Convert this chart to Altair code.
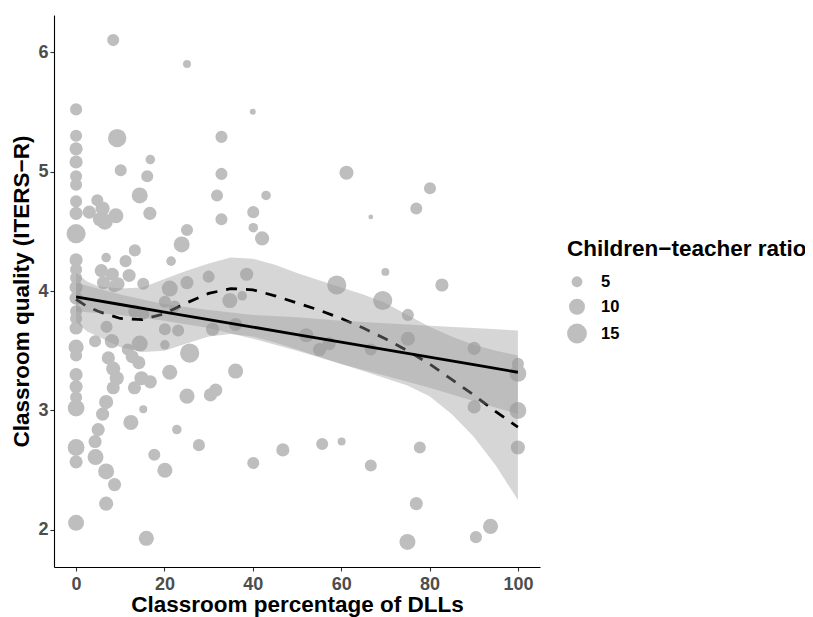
import altair as alt
import pandas as pd

# ---- scatter data: classroom % DLLs, ITERS-R quality, children-teacher ratio ----
dll = [0,0,0,0,0,0,0,0,0,0,0,0,0,0,0,0,0,0,0,0,0,0,0,0,0,0,
       3.0,4.8,6.0,5.4,6.5,9.0,8.4,9.3,10.1,6.8,5.7,8.2,9.5,6.2,8.6,12.0,6.9,4.3,8.1,7.3,8.4,9.2,8.4,6.8,6.0,5.0,4.3,4.4,6.8,8.7,6.8,
       11.2,13.3,15.2,16.8,16.1,14.4,16.7,13.3,15.2,14.4,11.7,12.7,14.2,14.8,16.8,13.2,15.2,12.4,17.7,15.9,
       21.5,23.9,25.1,21.2,25.1,20.1,22.3,20.1,23.1,20.1,25.7,21.2,25.1,22.8,27.8,20.1,25.1,
       30.0,32.9,32.9,31.9,32.9,40.0,43.0,40.1,40.1,42.1,38.6,34.8,37.6,30.9,36.1,36.1,30.4,31.6,40.1,
       46.8,52.1,55.1,57.3,55.7,60.1,59.0,61.2,66.7,66.7,66.7,69.4,70.0,
       75.1,75.1,77.0,80.1,82.8,77.8,77.0,75.0,90.1,90.1,90.5,93.8,100,100,100,100]
quality = [5.52,5.30,5.19,5.08,4.96,4.89,4.75,4.65,4.48,4.26,4.18,4.11,4.03,3.94,3.83,3.77,3.69,3.53,3.46,3.30,3.20,3.11,3.02,2.69,2.57,2.06,
           4.66,4.76,4.69,4.60,4.58,4.63,6.10,5.28,5.01,4.28,4.17,4.14,4.06,4.07,4.04,4.13,3.70,3.58,3.58,3.44,3.35,3.27,3.19,3.07,2.97,2.84,2.74,2.61,2.49,2.38,2.22,
           4.25,4.34,4.06,5.10,4.96,4.80,4.65,3.83,3.81,3.56,3.51,3.45,3.40,3.27,3.24,3.19,3.01,2.90,2.63,1.93,
           4.25,4.39,4.51,4.02,4.07,3.91,3.87,3.68,3.67,3.55,3.48,3.32,3.12,2.84,2.71,2.50,5.90,
           4.12,5.29,4.98,4.80,4.60,5.50,4.80,4.66,4.53,4.44,4.14,3.92,3.96,3.68,3.72,3.33,3.13,3.17,2.56,
           2.67,3.63,3.51,3.56,2.72,2.74,4.05,4.99,4.62,3.51,2.54,3.92,4.16,
           3.80,3.60,4.69,4.86,4.05,2.69,2.22,1.90,3.52,3.03,1.94,2.03,3.39,3.31,3.00,2.69]
ratio = [6,6,7,7,6,6,6,7,14,7,6,6,7,7,6,6,7,9,6,7,7,6,11,11,7,10,
         7,6,8,8,10,9,6,13,6,4,7,7,7,7,6,7,6,6,8,7,8,8,7,8,7,7,7,10,10,7,8,
         6,6,6,4,6,10,7,7,6,10,6,7,7,8,7,7,3,9,6,9,
         4,10,6,10,7,6,6,6,6,4,14,9,9,4,6,9,3,
         6,6,6,6,6,2,4,6,4,8,7,9,4,7,7,9,7,7,6,
         7,8,7,7,6,3,14,8,1.5,6,6,14,3,
         6,8,6,6,7,6,7,10,7,7,6,9,6,11,11,8]

# ---- fitted curves ----
lm_x = [0,10,20,30,40,50,60,70,80,90,100]
lm_fit = [3.95,3.887,3.824,3.761,3.698,3.635,3.572,3.509,3.446,3.383,3.32]
lm_lo = [3.83,3.80,3.75,3.69,3.60,3.50,3.39,3.29,3.19,3.08,2.97]
lm_hi = [4.07,3.97,3.89,3.84,3.80,3.78,3.75,3.73,3.71,3.69,3.67]

lo_x = [0,2.5,5,10,15,20,25,30,35,40,45,50,55,60,65,70,75,80,85,90,95,100]
lo_fit = [3.93,3.87,3.83,3.77,3.76,3.81,3.90,3.98,4.02,4.01,3.96,3.90,3.84,3.77,3.69,3.60,3.50,3.39,3.26,3.13,2.99,2.86]
lo_lo = [3.74,3.66,3.62,3.53,3.49,3.50,3.56,3.62,3.64,3.62,3.57,3.51,3.45,3.39,3.33,3.27,3.21,3.12,2.97,2.78,2.54,2.25]
lo_hi = [4.15,4.08,4.04,4.02,4.03,4.10,4.17,4.23,4.28,4.27,4.22,4.15,4.09,4.03,3.97,3.90,3.80,3.70,3.62,3.55,3.50,3.46]

pts = pd.DataFrame({"dll": dll, "quality": quality, "ratio": ratio})
lm = pd.DataFrame({"x": lm_x, "fit": lm_fit, "lo": lm_lo, "hi": lm_hi})
lo = pd.DataFrame({"x": lo_x, "fit": lo_fit, "lo": lo_lo, "hi": lo_hi})

FONT = "Liberation Sans"
xscale = alt.Scale(domain=[-5, 105], nice=False, zero=False)
yscale = alt.Scale(domain=[1.69, 6.31], nice=False, zero=False)

xaxis = alt.Axis(values=[0, 20, 40, 60, 80, 100], format="d", title="Classroom percentage of DLLs",
                 titleX=243, titleY=44, titleBaseline="alphabetic", titleAnchor="start", titleAlign="center")
yaxis = alt.Axis(values=[2, 3, 4, 5, 6], format="d", title="Classroom quality (ITERS\u2212R)",
                 titleX=-25.5, titleY=276, titleBaseline="alphabetic", titleAlign="center", titleAngle=270)

points = alt.Chart(pts).mark_circle(color="#bebebe", opacity=1).encode(
    x=alt.X("dll:Q", scale=xscale, axis=xaxis),
    y=alt.Y("quality:Q", scale=yscale, axis=yaxis),
    size=alt.Size("ratio:Q",
                  scale=alt.Scale(domain=[2, 16], range=[36, 420], zero=False),
                  legend=alt.Legend(title="Children\u2212teacher ratio", values=[5, 10, 15],
                                    orient="none", legendX=513, legendY=223)),
)

lo_band = alt.Chart(lo).mark_area(color="#999999", opacity=0.4).encode(
    x=alt.X("x:Q", scale=xscale), y=alt.Y("lo:Q", scale=yscale), y2="hi:Q")
lo_line = alt.Chart(lo).mark_line(color="black", strokeWidth=2.8, strokeDash=[11, 9]).encode(
    x=alt.X("x:Q", scale=xscale), y=alt.Y("fit:Q", scale=yscale))
lm_band = alt.Chart(lm).mark_area(color="#999999", opacity=0.4).encode(
    x=alt.X("x:Q", scale=xscale), y=alt.Y("lo:Q", scale=yscale), y2="hi:Q")
lm_line = alt.Chart(lm).mark_line(color="black", strokeWidth=2.8).encode(
    x=alt.X("x:Q", scale=xscale), y=alt.Y("fit:Q", scale=yscale))

chart = alt.layer(points, lo_band, lo_line, lm_band, lm_line).properties(
    width=486, height=552,
    autosize=alt.AutoSizeParams(type="none"),
    padding={"left": 46, "top": 7, "right": 265, "bottom": 50},
).configure_view(stroke=None).configure_axis(
    grid=False, domainColor="black", domainWidth=1.1,
    tickColor="#333333", tickSize=4, tickWidth=1.1,
    labelFont=FONT, labelFontSize=18, labelFontWeight="bold", labelColor="#4d4d4d",
    titleFont=FONT, titleFontSize=22.5, titleFontWeight="bold", titleColor="black",
).configure_axisX(labelPadding=4).configure_axisY(labelPadding=2).configure_legend(
    titleFont=FONT, titleFontSize=22.5, titleFontWeight="bold", titleColor="black", titleLimit=400,
    labelFont=FONT, labelFontSize=16.5, labelFontWeight="bold", labelColor="black",
    symbolFillColor="#bebebe", symbolStrokeWidth=0, symbolType="circle",
    padding=0, labelOffset=14, titlePadding=13, rowPadding=8,
)

chart.save("out.html", embed_options={"renderer": "svg", "actions": False})
